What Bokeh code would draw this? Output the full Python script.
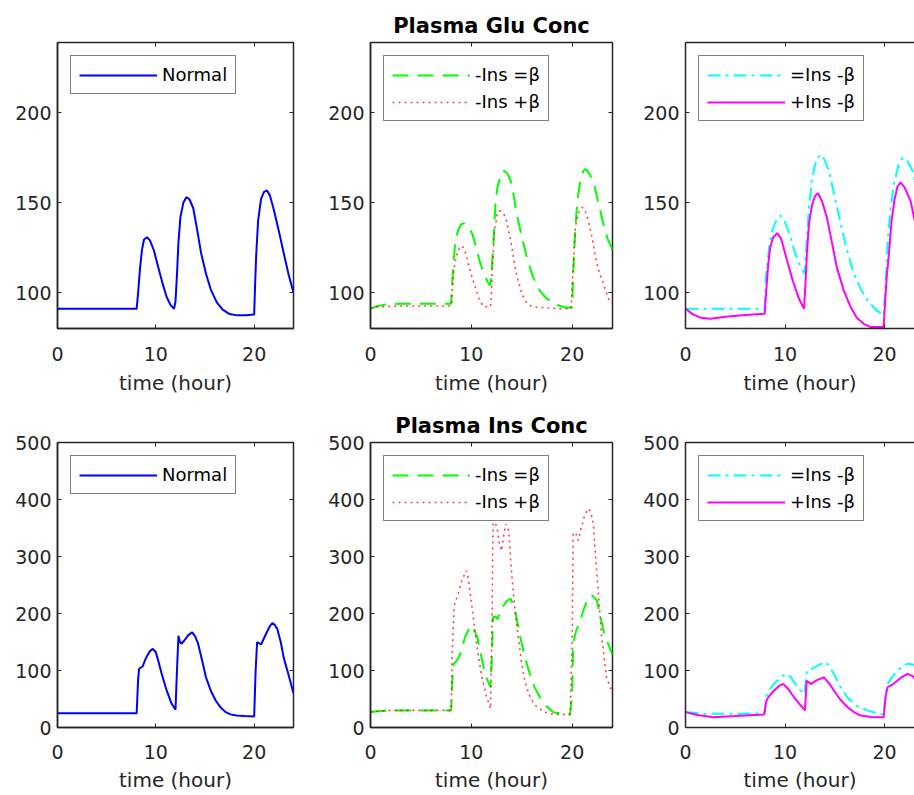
from bokeh.plotting import figure
from bokeh.layouts import row, column
from bokeh.models import Range1d, FixedTicker, LinearAxis
from bokeh.embed import file_html
from bokeh.resources import INLINE

FONT = "DejaVu Sans"
AX = "#262626"

# ---------------- data (time in hours) ----------------
# Plasma glucose
g_norm_t = [0, 8.05, 8.2, 8.4, 8.6, 8.8, 9.1, 9.4, 9.8, 10.2, 10.7, 11.1, 11.5, 11.85, 12.0, 12.15, 12.3, 12.5, 12.8, 13.1, 13.4, 13.8, 14.2, 14.6, 15.1, 15.6, 16.2, 16.8, 17.5, 18.3, 19.2, 20.0, 20.1, 20.2, 20.4, 20.7, 21.0, 21.3, 21.6, 22.0, 22.5, 23.0, 23.5, 24.0]
g_norm_v = [91, 91, 100, 114, 124, 129.5, 130.7, 129, 123.5, 115, 104.8, 97.5, 93, 91, 95, 110, 128, 142, 150, 153, 152, 147, 135, 122, 110.4, 101.5, 94.5, 90.5, 88, 87.3, 87.4, 87.8, 105, 120, 140, 152, 156, 156.7, 154, 146, 134.4, 122, 110, 100]

g_a_t = [0, 0.5, 1.5, 3, 8.0, 8.15, 8.4, 8.7, 9.0, 9.3, 9.7, 10.1, 10.5, 10.9, 11.3, 11.6, 11.85, 12.0, 12.2, 12.4, 12.6, 12.9, 13.2, 13.6, 13.9, 14.2, 14.5, 15.0, 15.5, 16.1, 16.8, 17.4, 18.0, 18.8, 19.5, 20.0, 20.1, 20.3, 20.5, 20.8, 21.1, 21.3, 21.6, 22.1, 22.6, 23.1, 23.5, 24.0]
g_a_v = [91, 92.2, 93.4, 93.7, 93.7, 110, 128, 135, 138, 138.5, 136.5, 132.6, 124.5, 116, 110, 106, 103.9, 110, 129, 150, 159, 165, 167.8, 166, 162, 154, 143.7, 131, 119.6, 109, 101, 97, 94.6, 92.5, 91.5, 91.8, 110, 134, 150, 162, 167.5, 168.7, 167, 162, 150, 138, 130, 124]

g_b_t = [0, 0.5, 3, 8.0, 8.1, 8.25, 8.5, 8.8, 9.1, 9.4, 9.7, 10.05, 10.4, 10.8, 11.2, 11.9, 12.0, 12.1, 12.3, 12.55, 12.8, 13.1, 13.4, 13.9, 14.4, 15.0, 15.4, 15.8, 16.5, 18.8, 19.9, 20.0, 20.15, 20.3, 20.6, 21.0, 21.3, 21.6, 22.0, 22.3, 22.7, 23.1, 23.6, 24.0]
g_b_v = [91, 92, 92.5, 92.5, 100, 112, 120, 124.5, 126, 122.5, 116, 109, 103, 96, 92.2, 92, 100, 116, 134, 143, 145.5, 144.5, 141.8, 129, 112, 99.3, 95, 92.8, 91.8, 91, 91, 104.8, 120, 136, 144, 147.4, 145, 140, 130, 119.6, 111, 104.8, 96.5, 94]

g_c_t = [0, 7.95, 8.1, 8.4, 8.7, 9.1, 9.55, 10.0, 10.55, 11.0, 11.5, 11.96, 12.1, 12.4, 12.7, 13.0, 13.3, 13.57, 13.9, 14.4, 15.0, 15.6, 16.2, 16.9, 17.6, 18.3, 19.1, 19.9, 20.1, 20.3, 20.6, 21.0, 21.4, 21.8, 22.3, 22.8, 23.4, 24.0]
g_c_v = [91, 91, 110, 125, 134.4, 140, 142.8, 139, 130.7, 122, 115, 110.4, 122, 147.4, 163, 171, 175, 176.7, 174.5, 167.8, 153, 138, 124, 110.4, 102, 95.6, 90.5, 87.2, 105, 128, 147.4, 162, 171, 175, 173, 167.8, 152, 136]

g_d_t = [0, 0.7, 1.5, 2.5, 4, 6, 7.95, 8.1, 8.3, 8.5, 8.8, 9.2, 9.6, 10.2, 10.8, 11.4, 11.9, 12.05, 12.2, 12.4, 12.7, 13.0, 13.3, 13.7, 14.2, 14.7, 15.2, 15.9, 16.6, 17.2, 17.9, 18.6, 19.9, 20.05, 20.2, 20.4, 20.7, 21.0, 21.3, 21.6, 22.0, 22.6, 23.1, 23.6, 24.0]
g_d_v = [91, 88, 86, 85.4, 86.5, 87.5, 88.2, 100, 115, 125, 130.5, 133, 130, 117.8, 106, 96.5, 91, 105, 122, 138, 148.5, 153.5, 155.2, 151, 141.8, 128, 114, 101, 91.8, 86, 82.6, 80.8, 80.8, 95, 108, 119.6, 140, 152, 159, 161.3, 158.5, 151, 138, 122, 110]

# Plasma insulin
i_norm_t = [0, 8.05, 8.2, 8.3, 8.65, 9.0, 9.4, 9.7, 10.0, 10.2, 10.6, 11.1, 11.6, 12.0, 12.15, 12.3, 12.45, 12.6, 12.9, 13.3, 13.7, 14.0, 14.3, 14.7, 15.1, 15.6, 16.1, 16.6, 17.1, 17.6, 18.2, 19.0, 20.0, 20.15, 20.3, 20.7, 21.2, 21.6, 21.85, 22.1, 22.35, 22.7, 23.0, 23.5, 24.0]
i_norm_v = [25, 25, 85, 103, 107, 122, 134, 138, 132, 120, 94, 65, 42, 31, 100, 161, 150, 147, 152.6, 162, 167, 160, 147, 118, 88, 64, 47, 35, 27, 23, 21, 20, 19.5, 100, 150, 145.6, 164, 178, 183, 180, 173, 150, 123, 92, 60]

i_a_t = [0, 1, 2, 8.0, 8.1, 8.25, 8.6, 8.9, 9.4, 9.95, 10.3, 10.6, 11.2, 11.5, 11.9, 12.05, 12.15, 12.4, 12.6, 13.0, 13.5, 13.9, 14.15, 14.4, 15.0, 15.4, 15.8, 16.3, 16.8, 17.4, 18.1, 19.0, 19.8, 20.0, 20.1, 20.4, 20.8, 21.2, 21.5, 21.95, 22.45, 22.8, 23.1, 23.5, 24.0]
i_a_v = [27, 29, 30, 30, 80, 112, 118, 129, 160, 179, 170, 158, 106, 87, 71, 130, 193.5, 195, 190, 208, 222, 226, 215, 199, 147, 118, 94, 70, 53, 38, 27, 24, 23, 60, 147, 170, 188, 210, 223, 232, 223, 195, 170, 150, 128]

i_b_t = [0, 1, 2, 8.0, 8.1, 8.3, 8.7, 9.1, 9.5, 9.7, 9.9, 10.4, 10.7, 11.05, 11.5, 11.9, 12.05, 12.15, 12.35, 12.55, 12.8, 13.0, 13.2, 13.4, 13.7, 14.0, 14.4, 15.0, 15.3, 15.7, 16.1, 16.5, 17.3, 18.15, 19.8, 20.0, 20.1, 20.35, 20.6, 20.9, 21.2, 21.6, 21.85, 22.1, 22.45, 22.9, 23.4, 23.9, 24.0]
i_b_v = [27, 29, 30, 30, 130, 214, 235, 260, 275, 262, 234, 164, 125, 88, 55, 33, 180, 357, 360, 351, 320, 310, 335, 357, 346, 270, 193.5, 112, 82, 59, 45, 36, 27, 23, 23, 150, 340, 342, 328, 350, 370, 384, 378, 357, 270, 164, 88, 65, 62]

i_c_t = [0, 2, 5, 7.95, 8.1, 8.4, 8.8, 9.2, 9.7, 10.2, 10.6, 11.05, 11.5, 11.96, 12.1, 12.2, 12.7, 13.3, 14.07, 14.5, 14.9, 15.5, 16.25, 17.2, 18.25, 19.2, 19.9, 20.1, 20.3, 20.8, 21.3, 21.9, 22.4, 23.0, 23.5, 24.0]
i_c_v = [27, 24, 24, 25, 55, 65, 75, 82, 90, 94, 88, 76, 66, 59, 85, 100, 103, 109, 115, 106, 94, 73, 53, 38, 30, 25, 23, 60, 76.6, 90, 100, 109, 112, 110, 103, 90]

i_d_t = [0, 1.2, 2.8, 5, 7.9, 8.1, 8.3, 8.9, 9.4, 9.8, 10.3, 10.9, 11.5, 12.0, 12.1, 12.16, 12.6, 13.2, 13.9, 14.4, 14.9, 15.5, 16.25, 17.0, 17.6, 18.7, 19.9, 20.1, 20.3, 20.9, 21.6, 22.3, 22.8, 23.4, 24.0]
i_d_v = [27, 22, 18, 20, 23, 45, 53, 65, 73, 76.6, 68, 53, 40, 30, 60, 82, 76.6, 83, 88, 78, 65, 50, 36, 26, 21, 18.5, 18, 55, 71, 76.6, 87, 94, 90, 78, 65]

titles = ["Plasma Glu Conc", "Plasma Ins Conc"]
x_ticks = [0, 10, 20]
glu_ticks = [100, 150, 200]
ins_ticks = [0, 100, 200, 300, 400, 500]
glu_range = (80, 239)
ins_range = (0, 500)
x_label = "time (hour)"

# ---------------- styles ----------------
S_NORM = dict(line_color="#0000FF", line_width=2)
S_A = dict(line_color="#00FF00", line_width=2, line_dash="16 9")
S_B = dict(line_color="#FF0000", line_width=1.6, line_alpha=0.75, line_dash="2 4")
S_C = dict(line_color="#00FFFF", line_width=2, line_dash="13 5 3 5")
S_D = dict(line_color="#FF00FF", line_width=2)


def mirror_axis(ticks, show_line):
    """Unlabelled axis that only draws inward ticks (MATLAB box style)."""
    ax = LinearAxis(ticker=FixedTicker(ticks=ticks),
                    major_label_overrides={t: "" for t in ticks},
                    major_label_standoff=0,
                    major_tick_in=4, major_tick_out=0,
                    minor_tick_line_color=None,
                    major_tick_line_color=AX,
                    axis_line_color=AX if show_line else None,
                    axis_line_width=1.5)
    return ax


def make_fig(width, height, bl, br, bt, bb, yr, yticks, xmax, tick_so, lab_so,
             title=None, cut=False):
    p = figure(width=width, height=height, output_backend="svg", toolbar_location=None,
               x_range=Range1d(0, xmax), y_range=Range1d(*yr),
               min_border_left=bl, min_border_right=br,
               min_border_top=bt, min_border_bottom=bb,
               title=title)
    p.xgrid.visible = False
    p.ygrid.visible = False
    p.background_fill_color = "white"
    p.border_fill_color = "white"
    if cut:
        p.outline_line_color = None
    else:
        p.outline_line_color = AX
        p.outline_line_width = 1.5
    p.xaxis.ticker = FixedTicker(ticks=x_ticks)
    p.yaxis.ticker = FixedTicker(ticks=yticks)
    for ax in (p.xaxis[0], p.yaxis[0]):
        ax.major_tick_in = 4
        ax.major_tick_out = 0
        ax.minor_tick_line_color = None
        ax.axis_line_color = AX
        ax.axis_line_width = 1.5
        ax.major_tick_line_color = AX
        ax.major_label_text_font = FONT
        ax.major_label_text_font_size = "19px"
        ax.major_label_text_color = AX
    p.yaxis.major_label_standoff = 6
    p.xaxis.major_label_standoff = tick_so
    p.xaxis.axis_label = x_label
    p.xaxis.axis_label_text_font = FONT
    p.xaxis.axis_label_text_font_size = "20px"
    p.xaxis.axis_label_text_font_style = "normal"
    p.xaxis.axis_label_text_color = AX
    p.xaxis.axis_label_standoff = lab_so
    # box ticks on the top (and right, unless the panel is cut off)
    p.add_layout(mirror_axis(x_ticks, cut), "above")
    if not cut:
        p.add_layout(mirror_axis(yticks, False), "right")
    if title is not None:
        p.title.align = "center"
        p.title.text_font = FONT
        p.title.text_font_size = "21px"
        p.title.text_font_style = "bold"
        p.title.text_color = "#000000"
        p.title.standoff = 9
    return p


def style_legend(p):
    lg = p.legend[0]
    lg.location = "top_left"
    lg.margin = 13
    lg.padding = 8
    lg.spacing = 6
    lg.glyph_width = 78
    lg.glyph_height = 20
    lg.label_height = 20
    lg.label_standoff = 5
    lg.label_text_font = FONT
    lg.label_text_font_size = "18px"
    lg.label_text_color = "#000000"
    lg.border_line_color = "#000000"
    lg.border_line_width = 1.2
    lg.background_fill_color = "white"
    lg.background_fill_alpha = 1.0


# widths / borders: columns
cols = [dict(width=325, bl=57, br=32, xmax=24, cut=False),
        dict(width=315, bl=45, br=28, xmax=24, cut=False),
        dict(width=274, bl=45, br=0, xmax=23.0, cut=True)]
rows_cfg = [dict(height=398, bt=42, bb=70, yr=glu_range, yt=glu_ticks, tso=18, lso=7),
            dict(height=397, bt=44, bb=68, yr=ins_range, yt=ins_ticks, tso=17, lso=6)]

series = [
    [[(g_norm_t, g_norm_v, S_NORM, "Normal")],
     [(g_a_t, g_a_v, S_A, "-Ins =β"), (g_b_t, g_b_v, S_B, "-Ins +β")],
     [(g_c_t, g_c_v, S_C, "=Ins -β"), (g_d_t, g_d_v, S_D, "+Ins -β")]],
    [[(i_norm_t, i_norm_v, S_NORM, "Normal")],
     [(i_a_t, i_a_v, S_A, "-Ins =β"), (i_b_t, i_b_v, S_B, "-Ins +β")],
     [(i_c_t, i_c_v, S_C, "=Ins -β"), (i_d_t, i_d_v, S_D, "+Ins -β")]],
]

grid_rows = []
for r, rc in enumerate(rows_cfg):
    figs = []
    for c, cc in enumerate(cols):
        p = make_fig(cc["width"], rc["height"], cc["bl"], cc["br"], rc["bt"], rc["bb"],
                     rc["yr"], rc["yt"], cc["xmax"], rc["tso"], rc["lso"],
                     title=titles[r] if c == 1 else None, cut=cc["cut"])
        for (t, v, st, lab) in series[r][c]:
            p.line(t, v, legend_label=lab, **st)
        style_legend(p)
        figs.append(p)
    grid_rows.append(row(*figs, spacing=0))

layout = column(*grid_rows, spacing=0)

open("out.html", "w").write(file_html(layout, INLINE))
